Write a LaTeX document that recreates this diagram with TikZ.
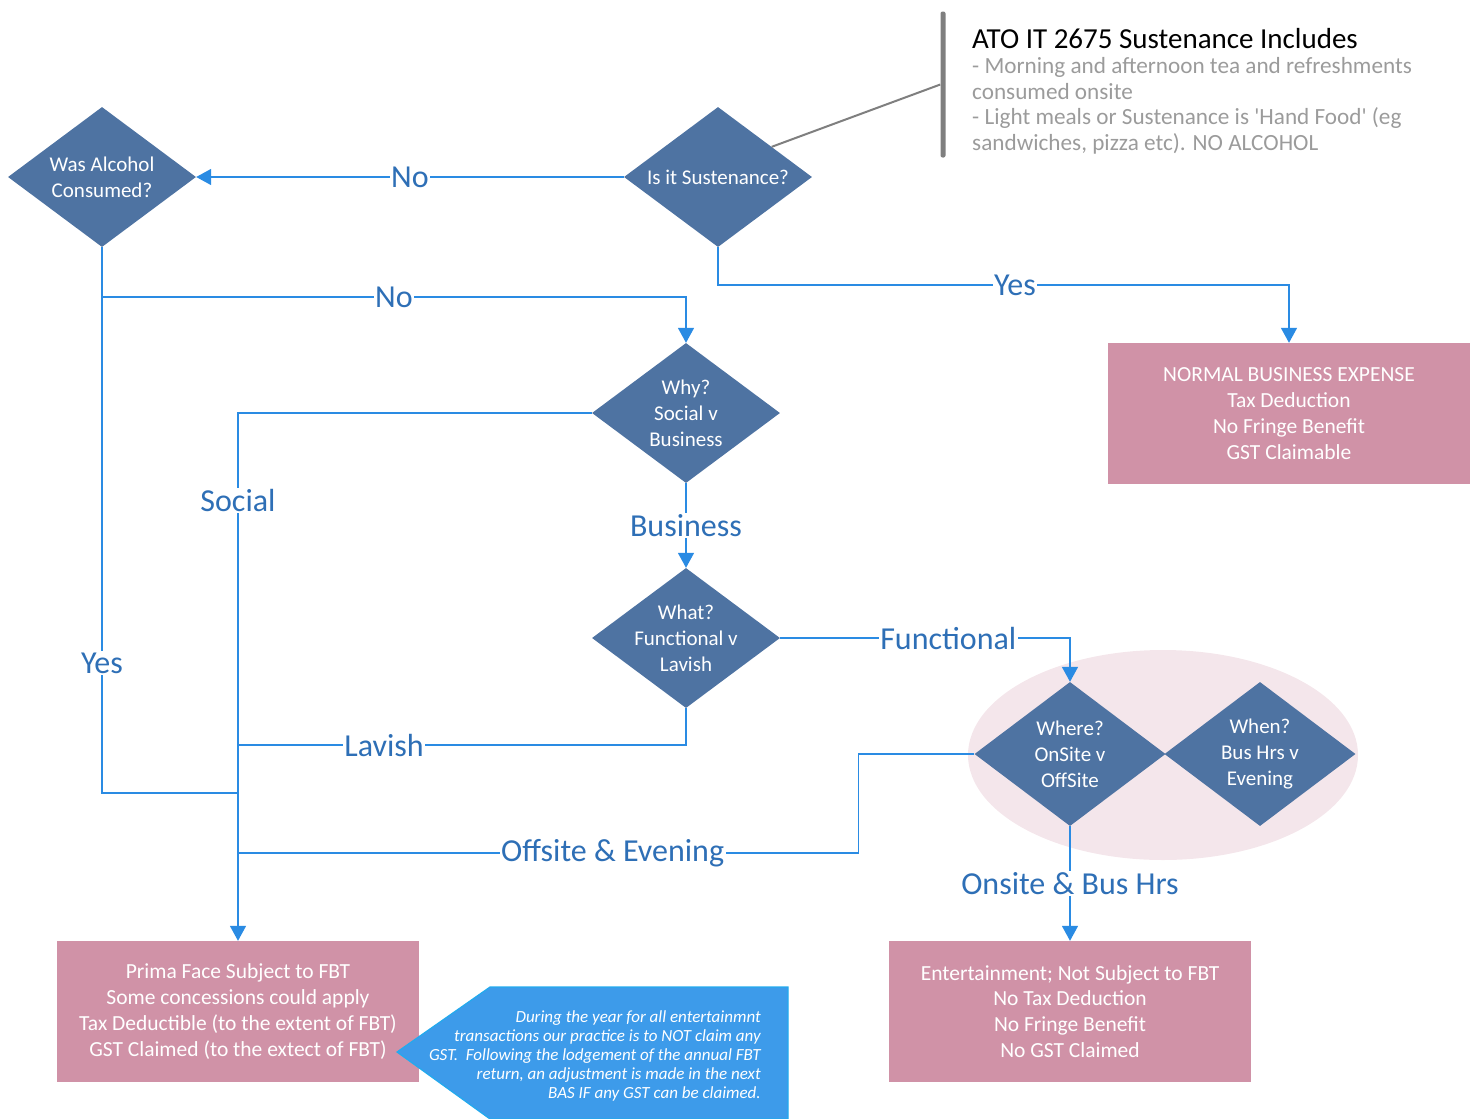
\documentclass[tikz,border=0pt]{standalone}
\usepackage{fontspec}
\setmainfont{Carlito}[Ligatures=TeXOff]
\usetikzlibrary{shapes.geometric,arrows.meta,calc}
\definecolor{diaBlue}{HTML}{4E73A2}
\definecolor{lineBlue}{HTML}{2A8BE3}
\definecolor{labBlue}{HTML}{2E6FB6}
\definecolor{boxPink}{HTML}{D092A7}
\definecolor{ellPink}{HTML}{F4E6EB}
\definecolor{callBlue}{HTML}{3D9BEA}
\definecolor{callEdge}{HTML}{22AAEE}
\definecolor{noteGray}{HTML}{9B9B9B}
\definecolor{barGray}{HTML}{7F7F7F}
\begin{document}
\begin{tikzpicture}[x=1pt,y=-1pt,
  dia/.style={shape=diamond, fill=diaBlue, draw=none, minimum width=188, minimum height=140, inner sep=0},
  dtxt/.style={text=white, align=center, font=\fontsize{21}{26}\selectfont, inner sep=0},
  box/.style={fill=boxPink, minimum width=362, minimum height=141, text=white, align=center, font=\fontsize{21.5}{25.8}\selectfont, inner sep=0},
  conn/.style={draw=lineBlue, line width=1.6},
  arr/.style={-{Triangle[length=15pt,width=16pt]}},
  lab/.style={fill=white, text=labBlue, font=\fontsize{32}{34}\selectfont, inner sep=1.5}
]
\useasboundingbox (0,0) rectangle (1478,1119);

% group ellipse
\node[ellipse, fill=ellPink, minimum width=390, minimum height=210, inner sep=0] (grp) at (1163,755) {};

% diamonds
\node[dia] (alc) at (102,177) {};
\node[dtxt] (alct) at (alc) {Was Alcohol\\Consumed?};
\node[dia] (sus) at (718,177) {};
\node[dtxt] (sust) at (sus) {Is it Sustenance?};
\node[dia] (why) at (686,413) {};
\node[dtxt] (whyt) at (why) {Why?\\Social v\\Business};
\node[dia] (what) at (686,638) {};
\node[dtxt] (whatt) at (what) {What?\\Functional v\\Lavish};
\node[dia, minimum width=191, minimum height=144] (where) at (1070,754) {};
\node[dtxt] (wheret) at (where) {Where?\\OnSite v\\OffSite};
\node[dia, minimum width=191, minimum height=144] (when) at (1260,754) {};
\node[dtxt] (whent) at (when) {When?\\Bus Hrs v\\Evening};

% boxes
\node[box] (normal) at (1289,413.5) {NORMAL BUSINESS EXPENSE\\Tax Deduction\\No Fringe Benefit\\GST Claimable};
\node[box] (prima) at (238,1011.5) {Prima Face Subject to FBT\\Some concessions could apply\\Tax Deductible (to the extent of FBT)\\GST Claimed (to the extect of FBT)};
\node[box] (ent) at (1070,1011.5) {Entertainment; Not Subject to FBT\\No Tax Deduction\\No Fringe Benefit\\No GST Claimed};

% junctions
\coordinate (jy) at (238,793);
\coordinate (jl) at (238,745);
\coordinate (jo) at (238,853);

% connectors
\draw[conn,arr] (sus.west) -- node[lab]{No} (alc.east);
\draw[conn,arr] (sus.south) -- ++(0,38) -| node[lab,pos=0.26]{Yes} (normal.north);
\draw[conn,arr] (alc.south) -- ++(0,50) -| node[lab,pos=0.25]{No} (why.north);
\draw[conn] (alc.south) -- node[lab,pos=0.762]{Yes} (alc.south |- jy) -- (jy);
\draw[conn,arr] (why.west) -| node[lab,pos=0.583]{Social} (prima.north);
\draw[conn,arr] (why.south) -- node[lab]{Business} (what.north);
\draw[conn,arr] (what.east) -| node[lab,pos=0.29]{Functional} (where.north);
\draw[conn] (what.south) |- node[lab,pos=0.837]{Lavish} (jl);
\draw[conn] (where.west) -- ++(-116,0) |- node[lab,pos=0.698]{Offsite \& Evening} (jo);
\draw[conn,arr] (where.south) -- node[lab]{Onsite \& Bus Hrs} (ent.north);

% annotation
\node[fill=barGray, minimum width=5, minimum height=146, inner sep=0, rounded corners=2] (bar) at (943,84.5) {};
\draw[barGray, line width=2] ($(sus.north)!0.57!(sus.east)$) -- (bar.west);
\node[anchor=base west, inner sep=0, font=\fontsize{29}{32}\selectfont] (notet) at (972,48) {ATO IT 2675 Sustenance Includes};
\node[anchor=north west, inner sep=0, align=left, text=noteGray, font=\fontsize{23.2}{25.8}\selectfont] (noteb) at (972,57) {- Morning and afternoon tea and refreshments\\consumed onsite\\- Light meals or Sustenance is 'Hand Food' (eg\\sandwiches, pizza etc). NO ALCOHOL};

% callout
\filldraw[fill=callBlue, draw=callEdge, line width=1.2] (397,1052) -- (490,987) -- (788,987) -- (788,1119) -- (490,1119) -- cycle;
\node[anchor=north east, inner sep=0, align=right, text=white, font=\fontsize{17}{19.2}\selectfont\itshape] (callt) at (761,1010) {During the year for all entertainmnt\\transactions our practice is to NOT claim any\\GST.\ \ Following the lodgement of the annual FBT\\return, an adjustment is made in the next\\BAS IF any GST can be claimed.};
\end{tikzpicture}
\end{document}
